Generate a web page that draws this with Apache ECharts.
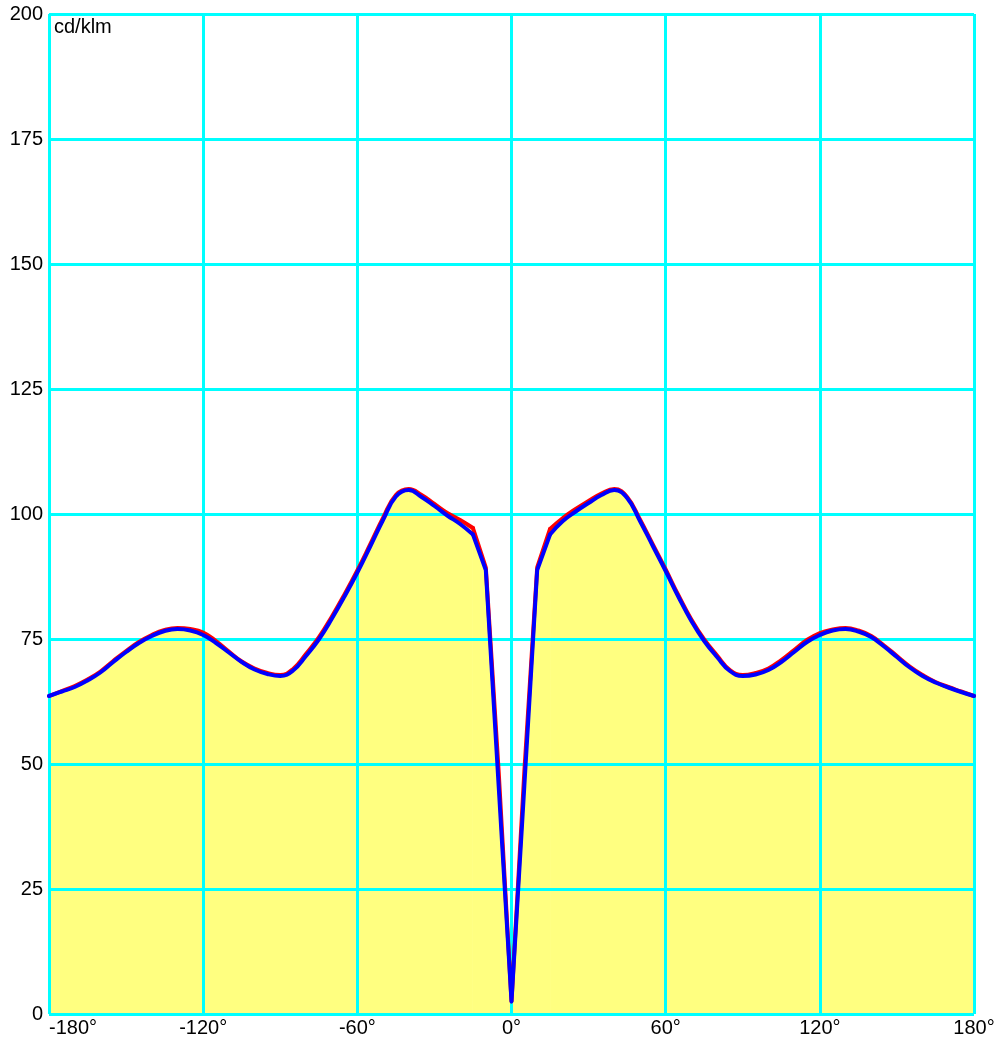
<!DOCTYPE html>
<html>
<head>
<meta charset="utf-8">
<script src="https://cdn.jsdelivr.net/npm/echarts@6/dist/echarts.min.js"></script>
<style>
html,body{margin:0;padding:0;background:#fff;}
#chart{width:998px;height:1038px;}
</style>
</head>
<body>
<div id="chart"></div>
<script>
var angles = [-180,-175,-170,-165,-160,-155,-150,-145,-140,-135,-130,-125,-120,-115,-110,-105,-100,-95,-90,-85,-80,-75,-70,-65,-60,-55,-50,-45,-40,-35,-30,-25,-20,-15,-10,-5,0,
  5,10,15,20,25,30,35,40,45,50,55,60,65,70,75,80,85,90,95,100,105,110,115,120,125,130,135,140,145,150,155,160,165,170,175,180];
var blueC90 = [63.6,64.5,65.4,66.7,68.3,70.4,72.4,74.2,75.6,76.6,77.0,76.7,75.8,74.2,72.3,70.4,68.9,68.0,67.6,68.7,71.6,74.9,79.0,83.5,88.3,93.5,98.8,103.5,104.8,103.4,101.6,99.7,98.0,95.9,88.8,45.6,2.5,
  45.6,88.8,95.9,98.6,100.5,102.2,103.8,104.8,103.2,98.6,93.6,88.6,83.4,78.6,74.6,71.4,68.6,67.6,67.9,68.8,70.4,72.4,74.4,75.8,76.7,77.0,76.5,75.4,73.5,71.4,69.3,67.6,66.3,65.3,64.4,63.6];
var redC0 = [63.6,64.6,65.6,66.9,68.5,70.6,72.6,74.4,75.8,76.8,77.2,77.0,76.3,74.6,72.5,70.5,69.1,68.2,67.8,69.0,72.0,75.3,79.4,83.9,88.7,93.9,99.2,103.8,105.0,103.8,102.0,100.2,98.8,97.2,89.3,48.5,2.5,
  48.5,89.3,97.0,99.2,101.0,102.6,104.1,105.0,103.4,98.9,93.9,88.9,83.7,78.9,74.9,71.7,68.8,67.8,68.2,69.1,70.8,72.8,74.8,76.2,76.9,77.2,76.7,75.6,73.7,71.6,69.5,67.8,66.4,65.4,64.5,63.6];
var yTicks = [0,25,50,75,100,125,150,175,200];
var xTicks = [-180,-120,-60,0,60,120,180];
var unitLabel = 'cd/klm';

function pairs(xs, ys, from, to){
  var out = [];
  for (var i = 0; i < xs.length; i++) {
    if (xs[i] >= from && xs[i] <= to) out.push([xs[i], ys[i]]);
  }
  return out;
}
// segments: smooth outer parts, straight centre dip
var segments = [[-180,-15,0.45],[-15,15,0],[15,180,0.45]];

function build(values, name, color, z, withArea){
  return segments.map(function(s){
    var o = {type:'line',name:name,data:pairs(angles,values,s[0],s[1]),showSymbol:false,
      smooth:s[2]||false,z:z,silent:true};
    if (withArea) {
      o.lineStyle = {width:0,opacity:0};
      o.areaStyle = {color:'#ffff80',opacity:1};
    } else {
      o.lineStyle = {color:color,width:4,join:'round',cap:'round'};
    }
    return o;
  });
}

var chart = echarts.init(document.getElementById('chart'), null, {renderer:'canvas'});
var font = '"Liberation Sans", Arial, sans-serif';
chart.setOption({
  animation:false,
  backgroundColor:'#ffffff',
  grid:{left:49,right:24,top:14,bottom:24,show:true,borderColor:'#008b8b',borderWidth:1,backgroundColor:'transparent',z:1},
  xAxis:{type:'value',min:-180,max:180,interval:60,z:3,
    axisLine:{show:false},axisTick:{show:false},
    splitLine:{show:true,lineStyle:{color:'#00ffff',width:3}},
    axisLabel:{color:'#000',fontFamily:font,fontSize:20,margin:4,alignMinLabel:'left',
      formatter:function(v){ return xTicks.indexOf(v)>=0 ? v+'°' : ''; }}
  },
  yAxis:{type:'value',min:0,max:200,interval:25,z:3,
    axisLine:{show:false},axisTick:{show:false},
    splitLine:{show:true,lineStyle:{color:'#00ffff',width:3}},
    axisLabel:{color:'#000',fontFamily:font,fontSize:20,margin:6,
      formatter:function(v){ return yTicks.indexOf(v)>=0 ? String(v) : ''; }}
  },
  graphic:[{type:'text',left:54,top:17,z:10,style:{text:unitLabel,fill:'#000',font:'20px '+font}}],
  series: [].concat(
    build(redC0,'area','#ffff80',2,true),
    build(redC0,'C0-C180','#ff0000',4,false),
    build(blueC90,'C90-C270','#0000ff',5,false)
  )
});
</script>
</body>
</html>
